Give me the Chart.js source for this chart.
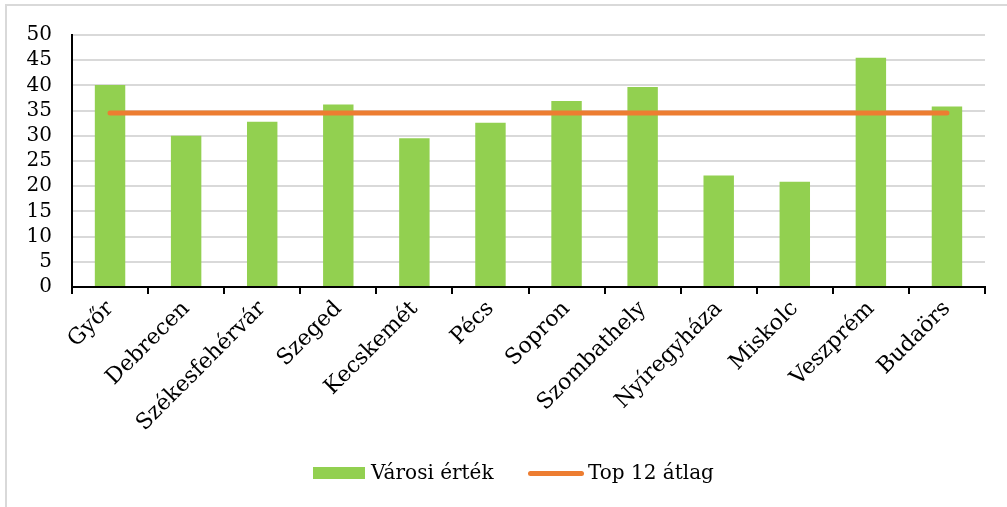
<!DOCTYPE html>
<html>
<head>
<meta charset="utf-8">
<script src="https://cdn.jsdelivr.net/npm/chart.js@4"></script>
<style>
    body { margin: 0; background: #fff; }
    #wrap { position: absolute; left: 0; top: 0; width: 1007px; height: 507px; }
    #frame { position: absolute; left: 5px; top: 4px; width: 1010px; height: 510px;
             border-top: 2px solid #d9d9d9; border-left: 2px solid #d9d9d9; }
    .legend { position: absolute; top: 459px; font-family: "DejaVu Serif", serif; font-size: 20px; line-height: 26px; color: #000; }
    .swatch { position: absolute; }
</style>
</head>
<body>
<div id="frame"></div>
<div id="wrap"><canvas id="chart" width="1007" height="507"></canvas></div>
<div class="swatch" style="left:313px; top:467px; width:52px; height:12px; background:#92D050;"></div>
<div class="legend" style="left:371px;">Városi érték</div>
<div class="swatch" style="left:528px; top:471px; width:56px; height:5px; background:#ED7D31; border-radius:3px;"></div>
<div class="legend" style="left:588px;">Top 12 átlag</div>
<script>
// Chart data
const cities = ['Győr', 'Debrecen', 'Székesfehérvár', 'Szeged', 'Kecskemét', 'Pécs',
    'Sopron', 'Szombathely', 'Nyíregyháza', 'Miskolc', 'Veszprém', 'Budaörs'];
const cityValues = [40.1, 30.0, 32.8, 36.2, 29.5, 32.6, 36.9, 39.7, 22.1, 20.9, 45.5, 35.8];
const top12Average = [34.5, 34.5, 34.5, 34.5, 34.5, 34.5, 34.5, 34.5, 34.5, 34.5, 34.5, 34.5];
const yTicks = [0, 5, 10, 15, 20, 25, 30, 35, 40, 45, 50];

const serif = '"DejaVu Serif", serif';

new Chart(document.getElementById('chart'), {
    type: 'bar',
    data: {
        labels: cities,
        datasets: [{
            type: 'line',
            label: 'Top 12 átlag',
            data: top12Average,
            borderColor: '#ED7D31',
            borderWidth: 5,
            borderCapStyle: 'round',
            pointRadius: 0,
            order: 0
        }, {
            label: 'Városi érték',
            data: cityValues,
            backgroundColor: '#92D050',
            barPercentage: 0.4,
            categoryPercentage: 1,
            order: 1
        }]
    },
    options: {
        responsive: false,
        animation: false,
        layout: { padding: { top: 35, right: 22, left: 0, bottom: 0 } },
        plugins: {
            legend: { display: false },
            tooltip: { enabled: false }
        },
        scales: {
            x: {
                afterFit: function(axis) { axis.height = 220; },
                border: { color: '#000', width: 2 },
                grid: {
                    offset: true,
                    drawOnChartArea: false,
                    drawTicks: true,
                    tickLength: 7,
                    color: '#000',
                    lineWidth: 2
                },
                ticks: {
                    color: '#000',
                    font: { family: serif, size: 22 },
                    minRotation: 45,
                    maxRotation: 45,
                    autoSkip: false,
                    padding: 2
                }
            },
            y: {
                min: 0,
                max: 50,
                afterFit: function(axis) { axis.width = 72; },
                afterBuildTicks: function(axis) { axis.ticks = yTicks.map(v => ({ value: v })); },
                border: { color: '#000', width: 2 },
                grid: { color: '#d9d9d9', lineWidth: 2, drawTicks: false },
                ticks: {
                    color: '#000',
                    font: { family: serif, size: 20 },
                    autoSkip: false,
                    padding: 20
                }
            }
        }
    }
});
</script>
</body>
</html>
